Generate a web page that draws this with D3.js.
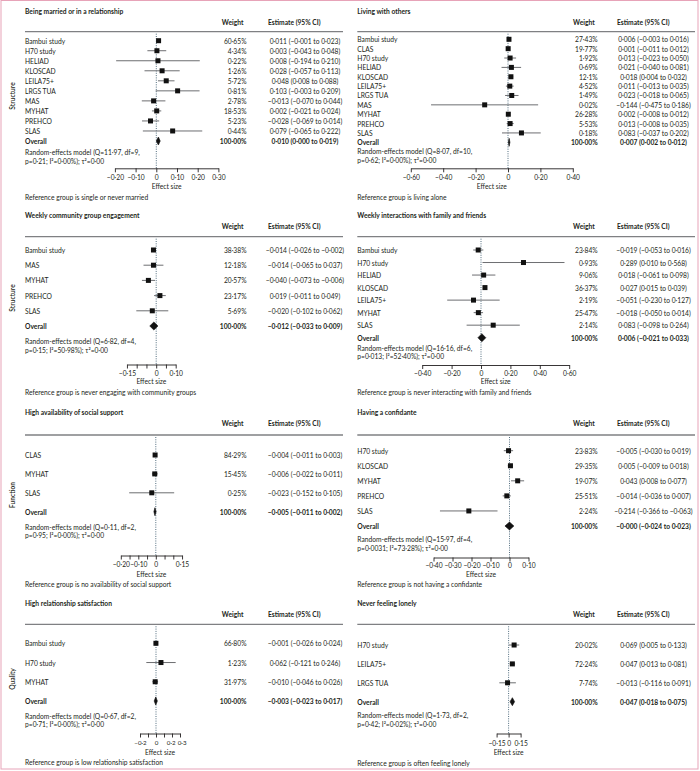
<!DOCTYPE html>
<html><head><meta charset="utf-8">
<script src="https://cdn.jsdelivr.net/npm/d3@7"></script>
<style>
body{margin:0;background:#fff}
svg{display:block}
text{font-family:Lato,"Open Sans",sans-serif;fill:#231f20}
</style>
</head><body>
<svg id="chart" width="700" height="771"></svg>
<script>
// ---------------- DATA ----------------
// Panel 1
const p1Title = "Being married or in a relationship";
const p1Studies = ["Bambui study","H70 study","HELIAD","KLOSCAD","LEILA75+","LRGS TUA","MAS","MYHAT","PREHCO","SLAS"];
const p1Weights = ["60.65","4.34","0.22","1.26","5.72","0.81","2.78","18.53","5.23","0.44"];
const p1Est = [0.011,0.003,0.008,0.028,0.048,0.103,-0.013,0.002,-0.028,0.079];
const p1Lo  = [-0.001,-0.043,-0.194,-0.057,0.008,-0.003,-0.070,-0.021,-0.069,-0.065];
const p1Hi  = [0.023,0.048,0.210,0.113,0.088,0.209,0.044,0.024,0.014,0.222];
const p1Overall = [0.010,0.000,0.019];
const p1Stats = ["Random-effects model (Q=11·97, df=9,","p=0·21; I²=0·00%); τ²=0·00"];
const p1Ticks = [-0.2,-0.1,0,0.1,0.2,0.3];
const p1TickLabels = ["−0·20","−0·10","0","0·10","0·20","0·30"];
const p1Ref = "Reference group is single or never married";

// Panel 2
const p2Title = "Living with others";
const p2Studies = ["Bambui study","CLAS","H70 study","HELIAD","KLOSCAD","LEILA75+","LRGS TUA","MAS","MYHAT","PREHCO","SLAS"];
const p2Weights = ["27.43","19.77","1.92","0.69","12.1","4.52","1.49","0.02","26.28","5.53","0.18"];
const p2Est = [0.006,0.001,0.013,0.021,0.018,0.011,0.023,-0.144,0.002,0.013,0.083];
const p2Lo  = [-0.003,-0.011,-0.023,-0.040,0.004,-0.013,-0.018,-0.475,-0.008,-0.008,-0.037];
const p2Hi  = [0.016,0.012,0.050,0.081,0.032,0.035,0.065,0.186,0.012,0.035,0.202];
const p2Overall = [0.007,0.002,0.012];
const p2Stats = ["Random-effects model (Q=8·07, df=10,","p=0·62; I²=0·00%); τ²=0·00"];
const p2Ticks = [-0.6,-0.4,-0.2,0,0.2,0.4];
const p2TickLabels = ["−0·60","−0·40","−0·20","0","0·20","0·40"];
const p2Ref = "Reference group is living alone";

// Panel 3
const p3Title = "Weekly community group engagement";
const p3Studies = ["Bambui study","MAS","MYHAT","PREHCO","SLAS"];
const p3Weights = ["38.38","12.18","20.57","23.17","5.69"];
const p3Est = [-0.014,-0.014,-0.040,0.019,-0.020];
const p3Lo  = [-0.026,-0.065,-0.073,-0.011,-0.102];
const p3Hi  = [-0.002,0.037,-0.006,0.049,0.062];
const p3Overall = [-0.012,-0.033,0.009];
const p3Stats = ["Random-effects model (Q=6·82, df=4,","p=0·15; I²=50·98%); τ²=0·00"];
const p3Ticks = [-0.15,-0.10,-0.05,0,0.05,0.10];
const p3TickLabels = ["−0·15","","","0","","0·10"];
const p3Ref = "Reference group is never engaging with community groups";

// Panel 4
const p4Title = "Weekly interactions with family and friends";
const p4Studies = ["Bambui study","H70 study","HELIAD","KLOSCAD","LEILA75+","MYHAT","SLAS"];
const p4Weights = ["23.84","0.93","9.06","36.37","2.19","25.47","2.14"];
const p4Est = [-0.019,0.289,0.018,0.027,-0.051,-0.018,0.083];
const p4Lo  = [-0.053,0.010,-0.061,0.015,-0.230,-0.050,-0.098];
const p4Hi  = [0.016,0.568,0.098,0.039,0.127,0.014,0.264];
const p4Overall = [0.006,-0.021,0.033];
const p4Stats = ["Random-effects model (Q=16·16, df=6,","p=0·013; I²=52·40%); τ²=0·00"];
const p4Ticks = [-0.4,-0.2,0,0.2,0.4,0.6];
const p4TickLabels = ["−0·40","−0·20","0","0·20","0·40","0·60"];
const p4Ref = "Reference group is never interacting with family and friends";

// Panel 5
const p5Title = "High availability of social support";
const p5Studies = ["CLAS","MYHAT","SLAS"];
const p5Weights = ["84.29","15.45","0.25"];
const p5Est = [-0.004,-0.006,-0.023];
const p5Lo  = [-0.011,-0.022,-0.152];
const p5Hi  = [0.003,0.011,0.105];
const p5Overall = [-0.005,-0.011,0.002];
const p5Stats = ["Random-effects model (Q=0·11, df=2,","p=0·95; I²=0·00%); τ²=0·00"];
const p5Ticks = [-0.20,-0.15,-0.10,-0.05,0,0.05,0.10,0.15];
const p5TickLabels = ["−0·20","","−0·10","","0","","","0·15"];
const p5Ref = "Reference group is no availability of social support";

// Panel 6
const p6Title = "Having a confidante";
const p6Studies = ["H70 study","KLOSCAD","MYHAT","PREHCO","SLAS"];
const p6Weights = ["23.83","29.35","19.07","25.51","2.24"];
const p6Est = [-0.005,0.005,0.043,-0.014,-0.214];
const p6Lo  = [-0.030,-0.009,0.008,-0.036,-0.366];
const p6Hi  = [0.019,0.018,0.077,0.007,-0.063];
const p6Overall = [-0,-0.024,0.023];
const p6Stats = ["Random-effects model (Q=15·97, df=4,","p=0·0031; I²=73·28%); τ²=0·00"];
const p6Ticks = [-0.4,-0.3,-0.2,-0.1,0,0.1];
const p6TickLabels = ["−0·40","−0·30","−0·20","−0·10","0","0·10"];
const p6Ref = "Reference group is not having a confidante";

// Panel 7
const p7Title = "High relationship satisfaction";
const p7Studies = ["Bambui study","H70 study","MYHAT"];
const p7Weights = ["66.80","1.23","31.97"];
const p7Est = [-0.001,0.062,-0.010];
const p7Lo  = [-0.026,-0.121,-0.046];
const p7Hi  = [0.024,0.246,0.026];
const p7Overall = [-0.003,-0.023,0.017];
const p7Stats = ["Random-effects model (Q=0·67, df=2,","p=0·71; I²=0·00%); τ²=0·00"];
const p7Ticks = [-0.2,-0.1,0,0.1,0.2,0.3];
const p7TickLabels = ["−0·2","","0","","0·2","0·3"];
const p7Ref = "Reference group is low relationship satisfaction";

// Panel 8
const p8Title = "Never feeling lonely";
const p8Studies = ["H70 study","LEILA75+","LRGS TUA"];
const p8Weights = ["20.02","72.24","7.74"];
const p8Est = [0.069,0.047,-0.013];
const p8Lo  = [0.005,0.013,-0.116];
const p8Hi  = [0.133,0.081,0.091];
const p8Overall = [0.047,0.018,0.075];
const p8Stats = ["Random-effects model (Q=1·73, df=2,","p=0·42; I²=0·02%); τ²=0·00"];
const p8Ticks = [-0.15,0,0.15];
const p8TickLabels = ["−0·15","0","0·15"];
const p8Ref = "Reference group is often feeling lonely";

// Domain side labels
const sideLabels = ["Structure","Structure","Function","Quality"];

// ---------------- LAYOUT ----------------
const colL = {name:25, wRight:246.5, estC:305, estHead:268, ruleEnd:343};
const colR = {name:357.3, wRight:597.7, estC:653.5, estHead:617, ruleEnd:695};
const layouts = [
  {col:colL, title:10.5, head:22, rule:31.7, r0:40.7, r1:141, s1:151.7, s2:161, axis:168.3, tl:177, eff:185.7, ref:196.5, zero:156.3, ppu:207},
  {col:colR, title:10.5, head:22, rule:31.7, r0:39.3, r1:142.3, s1:151, s2:160, axis:168.3, tl:177, eff:185.7, ref:196.5, zero:508, ppu:162},
  {col:colL, title:215, head:226, rule:236.7, r0:250, r1:326, s1:340.7, s2:350, axis:364.5, tl:372.5, eff:381, ref:391.7, zero:156.2, ppu:195},
  {col:colR, title:215, head:226, rule:236.7, r0:250, r1:337.7, s1:347.7, s2:356, axis:365, tl:372.5, eff:381, ref:391.7, zero:481, ppu:147},
  {col:colL, title:412.3, head:423.3, rule:435, r0:455, r1:511.7, s1:526.7, s2:535.3, axis:555.5, tl:564, eff:573.5, ref:583.5, zero:155.8, ppu:175},
  {col:colR, title:412.3, head:423.3, rule:435, r0:450.7, r1:526, s1:539, s2:547.7, axis:557.5, tl:565, eff:574, ref:583.5, zero:509.5, ppu:190},
  {col:colL, title:602.7, head:614, rule:624.3, r0:643.3, r1:701, s1:715.7, s2:724.3, axis:733.5, tl:742, eff:751.7, ref:761.5, zero:156, ppu:80, tickFs:6.2, tickDx:[0,0,0,0,-1.3,1.6]},
  {col:colR, title:602.7, head:614, rule:624.3, r0:645, r1:701.7, s1:715, s2:724.3, axis:733.5, tl:742.7, eff:751.7, ref:762.5, zero:508.6, ppu:80}
];
const sidePos = [96, 298, 495, 679];

const panels = [
  {title:p1Title, studies:p1Studies, weights:p1Weights, est:p1Est, lo:p1Lo, hi:p1Hi, overall:p1Overall, stats:p1Stats, ticks:p1Ticks, tickLabels:p1TickLabels, ref:p1Ref},
  {title:p2Title, studies:p2Studies, weights:p2Weights, est:p2Est, lo:p2Lo, hi:p2Hi, overall:p2Overall, stats:p2Stats, ticks:p2Ticks, tickLabels:p2TickLabels, ref:p2Ref},
  {title:p3Title, studies:p3Studies, weights:p3Weights, est:p3Est, lo:p3Lo, hi:p3Hi, overall:p3Overall, stats:p3Stats, ticks:p3Ticks, tickLabels:p3TickLabels, ref:p3Ref},
  {title:p4Title, studies:p4Studies, weights:p4Weights, est:p4Est, lo:p4Lo, hi:p4Hi, overall:p4Overall, stats:p4Stats, ticks:p4Ticks, tickLabels:p4TickLabels, ref:p4Ref},
  {title:p5Title, studies:p5Studies, weights:p5Weights, est:p5Est, lo:p5Lo, hi:p5Hi, overall:p5Overall, stats:p5Stats, ticks:p5Ticks, tickLabels:p5TickLabels, ref:p5Ref},
  {title:p6Title, studies:p6Studies, weights:p6Weights, est:p6Est, lo:p6Lo, hi:p6Hi, overall:p6Overall, stats:p6Stats, ticks:p6Ticks, tickLabels:p6TickLabels, ref:p6Ref},
  {title:p7Title, studies:p7Studies, weights:p7Weights, est:p7Est, lo:p7Lo, hi:p7Hi, overall:p7Overall, stats:p7Stats, ticks:p7Ticks, tickLabels:p7TickLabels, ref:p7Ref},
  {title:p8Title, studies:p8Studies, weights:p8Weights, est:p8Est, lo:p8Lo, hi:p8Hi, overall:p8Overall, stats:p8Stats, ticks:p8Ticks, tickLabels:p8TickLabels, ref:p8Ref}
];

// ---------------- DRAW ----------------
const svg = d3.select("#chart");
const FS = 6.7;
const fmt = v => ((v < 0 || Object.is(v, -0)) ? "−" : "") + Math.abs(v).toFixed(3).replace(".", "·");
const fmtCI = (e, l, h) => `${fmt(e)} (${fmt(l)} to ${fmt(h)})`;
const fmtW = w => w.replace(".", "·") + "%";

svg.append("rect").attr("x",1).attr("y",0.5).attr("width",697).attr("height",768.5)
  .attr("fill","none").attr("stroke","#e7a3b8").attr("stroke-width",1);

panels.forEach((p, pi) => {
  const L = layouts[pi], c = L.col;
  const g = svg.append("g");
  const ext = d3.extent(p.ticks);
  const x = d3.scaleLinear().domain(ext).range([L.zero + ext[0]*L.ppu, L.zero + ext[1]*L.ppu]);
  const rows = p.studies.concat(["Overall"]);
  const y = d3.scalePoint().domain(d3.range(rows.length)).range([L.r0, L.r1]);

  const txt = (sel) => sel.attr("dominant-baseline","central").style("font-size", FS+"px");

  g.append("text").attr("x", c.name).attr("y", L.title).text(p.title).call(txt).style("font-weight","700");
  g.append("text").attr("x", c.wRight - 3).attr("y", L.head).attr("text-anchor","end").text("Weight").call(txt).style("font-weight","700");
  g.append("text").attr("x", c.estHead).attr("y", L.head).text("Estimate (95% CI)").call(txt).style("font-weight","700");
  g.append("line").attr("x1", c.name).attr("x2", c.ruleEnd).attr("y1", L.rule).attr("y2", L.rule)
    .attr("stroke","#7f8083").attr("stroke-width",1.3);

  // zero line
  g.append("line").attr("x1", x(0)).attr("x2", x(0)).attr("y1", L.rule + 2).attr("y2", L.axis)
    .attr("stroke","#3f5e72").attr("stroke-width",0.9).attr("stroke-dasharray","1,1.3");

  // study rows
  p.studies.forEach((s, i) => {
    const yy = y(i);
    g.append("text").attr("x", c.name).attr("y", yy).text(s).call(txt);
    g.append("text").attr("x", c.wRight).attr("y", yy).attr("text-anchor","end").text(fmtW(p.weights[i])).call(txt);
    g.append("text").attr("x", c.estC).attr("y", yy).attr("text-anchor","middle").text(fmtCI(p.est[i], p.lo[i], p.hi[i])).call(txt);
    g.append("line").attr("x1", x(p.lo[i])).attr("x2", x(p.hi[i])).attr("y1", yy).attr("y2", yy)
      .attr("stroke","#6d6e71").attr("stroke-width",1);
    g.append("rect").attr("x", x(p.est[i]) - 2.5).attr("y", yy - 2.5).attr("width", 5).attr("height", 5).attr("fill","#111");
  });

  // overall
  const yo = y(rows.length - 1);
  const [oe, ol, oh] = p.overall;
  g.append("text").attr("x", c.name).attr("y", yo).text("Overall").call(txt).style("font-weight","700");
  g.append("text").attr("x", c.wRight).attr("y", yo).attr("text-anchor","end").text(fmtW("100.00")).call(txt).style("font-weight","700");
  g.append("text").attr("x", c.estC).attr("y", yo).attr("text-anchor","middle").text(fmtCI(oe, ol, oh)).call(txt).style("font-weight","700");
  g.append("polygon").attr("points", [[x(ol), yo], [x(oe), yo - 4], [x(oh), yo], [x(oe), yo + 4]].map(d => d.join(",")).join(" "))
    .attr("fill","#111").attr("stroke","#111").attr("stroke-width",0.6);

  // stats
  g.append("text").attr("x", c.name).attr("y", L.s1).text(p.stats[0]).call(txt);
  g.append("text").attr("x", c.name).attr("y", L.s2).text(p.stats[1]).call(txt);

  // axis
  const ax = g.append("g").attr("transform", `translate(0,${L.axis})`)
    .call(d3.axisBottom(x).tickValues(p.ticks).tickSize(4).tickSizeOuter(0).tickFormat((d, i) => p.tickLabels[i]));
  ax.select(".domain").attr("stroke","#231f20").attr("stroke-width",0.9);
  ax.selectAll(".tick line").attr("stroke","#231f20").attr("stroke-width",0.9);
  ax.selectAll(".tick text").attr("y", L.tl - L.axis).attr("dy", null).attr("dominant-baseline","central")
    .attr("dx", (d, i) => L.tickDx ? L.tickDx[i] : 0)
    .style("font-size", (L.tickFs || FS) + "px").style("font-family","Lato,'Open Sans',sans-serif").attr("fill","#231f20");
  g.append("text").attr("x", (x.range()[0] + x.range()[1]) / 2).attr("y", L.eff).attr("text-anchor","middle").text("Effect size").call(txt);
  g.append("text").attr("x", c.name).attr("y", L.ref).text(p.ref).call(txt);
});

// side labels
sideLabels.forEach((s, i) => {
  svg.append("text").attr("transform", `translate(12,${sidePos[i]}) rotate(-90)`)
    .attr("text-anchor","middle").attr("dominant-baseline","central")
    .style("font-size", FS+"px").style("font-weight","600").text(s);
});
</script>
</body></html>
